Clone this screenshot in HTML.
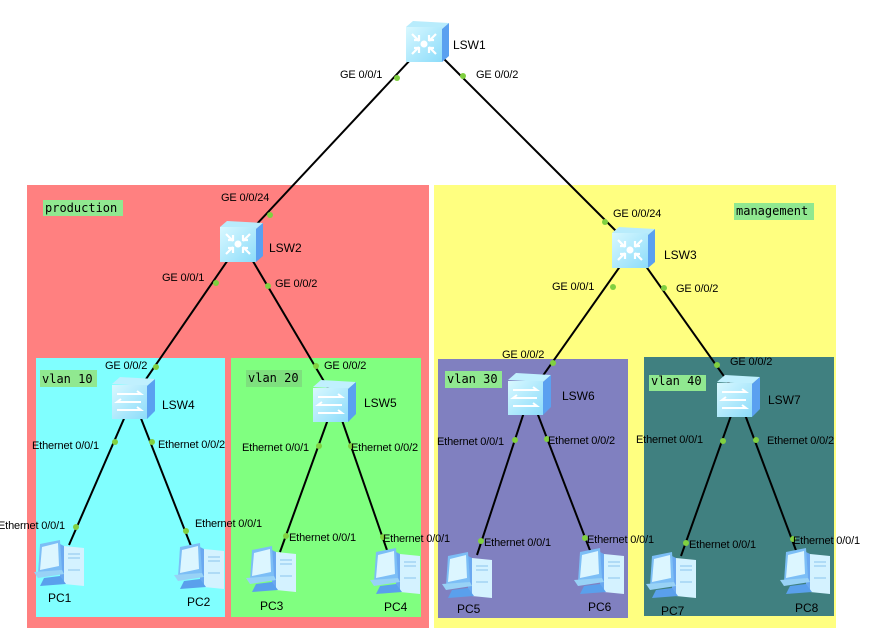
<!DOCTYPE html>
<html><head><meta charset="utf-8"><style>
html,body{margin:0;padding:0;background:#fff;width:882px;height:644px;overflow:hidden}
svg{display:block}
text{font-family:"Liberation Sans",sans-serif;font-size:11px;fill:#000;letter-spacing:-0.15px}
.d{font-size:12px;letter-spacing:0}
.m{font-family:"DejaVu Sans Mono","Liberation Mono",monospace;font-size:12px;letter-spacing:0}
</style></head><body>
<svg width="882" height="644" viewBox="0 0 882 644">
<defs>
<linearGradient id="gf" x1="0" y1="0" x2="1" y2="1"><stop offset="0" stop-color="#d8f8ff"/><stop offset="1" stop-color="#8cdcfa"/></linearGradient>
<symbol id="core" viewBox="0 0 43 41">
<polygon points="0,6 7,0 43,2 36,8" fill="#b8ecfc"/>
<polygon points="36,8 43,2 43,35 36,41" fill="#5aa0f0"/>
<rect x="0" y="6" width="36" height="35" fill="url(#gf)"/>
<circle cx="18" cy="23" r="3.5" fill="#fff"/>
<g stroke="#fff" stroke-width="2.2" fill="none">
<path d="M6 13l7 7M6 33l7-7M30 13l-7 7M30 33l-7-7"/>
<path d="M8 19h5v-5M8 27h5v5M28 19h-5v-5M28 27h-5v5"/>
</g>
</symbol>
<symbol id="acc" viewBox="0 0 43 42">
<polygon points="0,7 8,0 43,2 35,9" fill="#c0f0fe"/>
<polygon points="35,9 43,2 43,34 35,42" fill="#5aa0f0"/>
<rect x="0" y="8" width="35" height="34" fill="url(#gf)"/>
<g stroke="#fff" stroke-width="2" fill="none">
<path d="M5 17h24l-4-3M29 25H5l4-3M5 33h24l-4-3"/>
</g>
</symbol>
<symbol id="pc" viewBox="0 0 52 46">
<polygon points="30,6 50,8 50,46 30,44" fill="#d4f2ff"/>
<polygon points="26,4 30,6 30,44 26,42" fill="#6aa8f0"/>
<g stroke="#8ac4ee" stroke-width="1"><path d="M34 14h12M34 18h12M34 30h12"/></g>
<polygon points="6,4 26,0 28,30 4,34" fill="#7cbef6"/>
<polygon points="8,7 24,3 25,26 6,30" fill="#dcf6ff"/>
<polygon points="0,32 28,30 30,34 4,38" fill="#98d2f6"/>
<polygon points="10,38 26,36 32,44 6,46" fill="#5aa0ec"/>
</symbol>
</defs>
<rect x="27" y="185" width="402" height="443" fill="#ff8080"/>
<rect x="36" y="358" width="189" height="259" fill="#80ffff"/>
<rect x="231" y="358" width="190" height="259" fill="#80ff80"/>
<rect x="434" y="185" width="402" height="443" fill="#ffff80"/>
<rect x="438" y="359" width="190" height="259" fill="#8080c0"/>
<rect x="644" y="357" width="190" height="259" fill="#408080"/>

<rect x="43" y="200" width="80" height="16" fill="#90e890"/><text class="m" x="45" y="212">production</text>
<rect x="40" y="370" width="57" height="17" fill="#90e890"/><text class="m" x="42" y="383">vlan 10</text>
<rect x="246" y="370" width="56" height="17" fill="#7ee07e"/><text class="m" x="248" y="382">vlan 20</text>
<rect x="734" y="203" width="80" height="17" fill="#90e890"/><text class="m" x="736" y="215">management</text>
<rect x="445" y="371" width="57" height="17" fill="#90e890"/><text class="m" x="447" y="383">vlan 30</text>
<rect x="649" y="375" width="57" height="16" fill="#90e890"/><text class="m" x="651" y="385">vlan 40</text>

<g stroke="#000" stroke-width="2">
<line x1="427" y1="42" x2="241" y2="241"/><line x1="427" y1="42" x2="633" y2="248"/>
<line x1="241" y1="241" x2="133" y2="398"/><line x1="241" y1="241" x2="335" y2="400"/>
<line x1="633" y1="248" x2="530" y2="394"/><line x1="633" y1="248" x2="738" y2="396"/>
<line x1="133" y1="398" x2="69" y2="545"/><line x1="133" y1="398" x2="191" y2="546"/>
<line x1="335" y1="400" x2="280" y2="552"/><line x1="335" y1="400" x2="388" y2="553"/>
<line x1="530" y1="394" x2="477" y2="555"/><line x1="530" y1="394" x2="591" y2="553"/>
<line x1="738" y1="396" x2="681" y2="556"/><line x1="738" y1="396" x2="797" y2="553"/>
</g>
<g fill="#80d040">
<circle cx="397" cy="78" r="3"/><circle cx="463" cy="76" r="3"/><circle cx="270" cy="215" r="3"/><circle cx="605" cy="222" r="3"/>
<circle cx="216" cy="283" r="3"/><circle cx="268" cy="286" r="3"/><circle cx="156" cy="367" r="3"/><circle cx="316" cy="366" r="3"/>
<circle cx="613" cy="287" r="3"/><circle cx="664" cy="288" r="3"/><circle cx="553" cy="363" r="3"/><circle cx="717" cy="365" r="3"/>
<circle cx="115" cy="442" r="3"/><circle cx="152" cy="442" r="3"/><circle cx="76" cy="527" r="3"/><circle cx="186" cy="531" r="3"/>
<circle cx="319" cy="446" r="3"/><circle cx="351" cy="446" r="3"/><circle cx="286" cy="536" r="3"/><circle cx="383" cy="537" r="3"/>
<circle cx="515" cy="440" r="3"/><circle cx="547" cy="439" r="3"/><circle cx="481" cy="541" r="3"/><circle cx="585" cy="538" r="3"/>
<circle cx="723" cy="441" r="3"/><circle cx="756" cy="440" r="3"/><circle cx="686" cy="543" r="3"/><circle cx="793" cy="539" r="3"/>
</g>

<use href="#core" x="406" y="21" width="43" height="41"/>
<use href="#core" x="220" y="221" width="43" height="41"/>
<use href="#core" x="612" y="227" width="43" height="41"/>
<use href="#acc" x="112" y="377" width="43" height="42"/>
<use href="#acc" x="313" y="380" width="43" height="42"/>
<use href="#acc" x="508" y="373" width="43" height="42"/>
<use href="#acc" x="717" y="375" width="43" height="42"/>
<use href="#pc" x="34" y="540" width="52" height="46"/>
<use href="#pc" x="174" y="543" width="52" height="46"/>
<use href="#pc" x="246" y="546" width="52" height="46"/>
<use href="#pc" x="370" y="548" width="52" height="46"/>
<use href="#pc" x="442" y="552" width="52" height="46"/>
<use href="#pc" x="574" y="548" width="52" height="46"/>
<use href="#pc" x="646" y="552" width="52" height="46"/>
<use href="#pc" x="780" y="548" width="52" height="46"/>

<text x="340" y="78">GE 0/0/1</text><text x="476" y="78">GE 0/0/2</text>
<text x="221" y="201">GE 0/0/24</text><text x="162" y="281">GE 0/0/1</text><text x="275" y="287">GE 0/0/2</text>
<text x="105" y="369">GE 0/0/2</text><text x="324" y="369">GE 0/0/2</text>
<text x="613" y="217">GE 0/0/24</text><text x="552" y="290">GE 0/0/1</text><text x="676" y="292">GE 0/0/2</text>
<text x="502" y="358">GE 0/0/2</text><text x="730" y="365">GE 0/0/2</text>
<text x="32" y="449">Ethernet 0/0/1</text><text x="158" y="448">Ethernet 0/0/2</text>
<text x="-2" y="529">Ethernet 0/0/1</text><text x="195" y="527">Ethernet 0/0/1</text>
<text x="242" y="451">Ethernet 0/0/1</text><text x="351" y="451">Ethernet 0/0/2</text>
<text x="289" y="541">Ethernet 0/0/1</text><text x="383" y="542">Ethernet 0/0/1</text>
<text x="437" y="445">Ethernet 0/0/1</text><text x="548" y="444">Ethernet 0/0/2</text>
<text x="484" y="546">Ethernet 0/0/1</text><text x="587" y="543">Ethernet 0/0/1</text>
<text x="636" y="443">Ethernet 0/0/1</text><text x="767" y="444">Ethernet 0/0/2</text>
<text x="689" y="548">Ethernet 0/0/1</text><text x="793" y="544">Ethernet 0/0/1</text>

<text class="d" x="453" y="49">LSW1</text><text class="d" x="269" y="252">LSW2</text><text class="d" x="664" y="259">LSW3</text>
<text class="d" x="162" y="409">LSW4</text><text class="d" x="364" y="407">LSW5</text><text class="d" x="562" y="400">LSW6</text><text class="d" x="768" y="404">LSW7</text>
<text class="d" x="48" y="602">PC1</text><text class="d" x="187" y="606">PC2</text><text class="d" x="260" y="610">PC3</text><text class="d" x="384" y="611">PC4</text>
<text class="d" x="457" y="613">PC5</text><text class="d" x="588" y="611">PC6</text><text class="d" x="661" y="615">PC7</text><text class="d" x="795" y="612">PC8</text>
</svg>
</body></html>
